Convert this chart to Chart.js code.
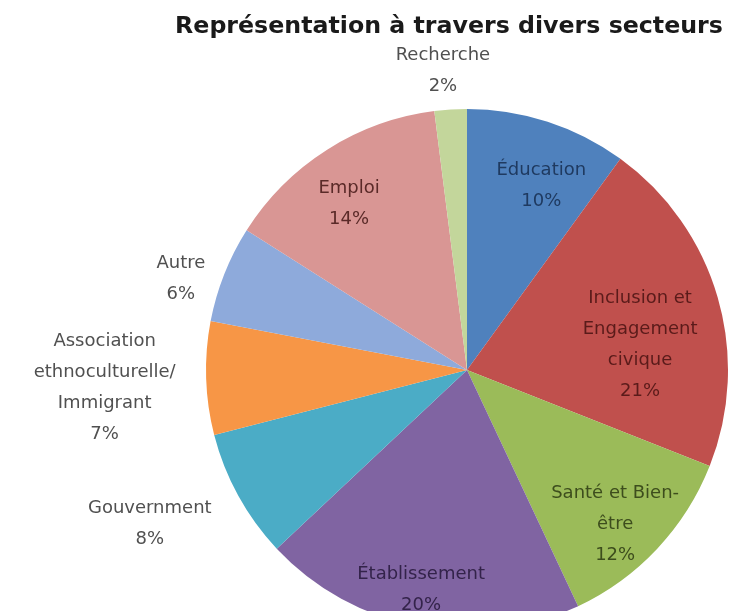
<!DOCTYPE html>
<html>
<head>
<meta charset="utf-8">
<script src="https://cdn.jsdelivr.net/npm/chart.js@4.4.1/dist/chart.umd.min.js"></script>
<style>
  html, body { margin: 0; padding: 0; background: #ffffff; overflow: hidden; }
  #wrap { width: 732px; height: 611px; overflow: hidden; }
</style>
</head>
<body>
<div id="wrap"><canvas id="pieChart" width="732" height="640"></canvas></div>
<script>
// Sector names (split on lines the way the chart shows them)
const sectors = [
    ['Éducation'],
    ['Inclusion et', 'Engagement', 'civique'],
    ['Santé et Bien-', 'être'],
    ['Établissement'],
    ['Gouvernment'],
    ['Association', 'ethnoculturelle/', 'Immigrant'],
    ['Autre'],
    ['Emploi'],
    ['Recherche']
];

// Share of each sector, in percent
const shares = [10, 21, 12, 20, 8, 7, 6, 14, 2];

const chartTitle = 'Représentation à travers divers secteurs';

// Slice colours
const sliceColors = ['#4f81bd', '#c0504d', '#9bbb59', '#8064a2', '#4bacc6',
                     '#f79646', '#8eaadb', '#d99694', '#c3d69b'];
// Label text colours (dark tints inside, grey outside)
const labelColors = ['#1f3a60', '#5a1b1a', '#3d4d1d', '#33234a', '#505050',
                     '#505050', '#505050', '#5a2a28', '#505050'];
// Label placement: distance as fraction of the radius, nudge in degrees
const labelDist = [0.76, 0.67, 0.82, 0.86, 1.35, 1.39, 1.15, 0.78, 1.15];
const labelNudge = [4, 8, 3, 1, 3, -1, -4, -3, -1];

// Draws the title and the data labels
const pieLabels = {
    id: 'pieLabels',
    afterDraw(chart) {
        const c = chart.ctx;
        c.save();

        // title, sized to its width in the picture
        let size = 24;
        c.font = 'bold ' + size + 'px "DejaVu Sans"';
        const w = c.measureText(chartTitle).width;
        size = size * 548 / w;
        c.font = 'bold ' + size.toFixed(2) + 'px "DejaVu Sans"';
        c.fillStyle = '#1a1a1a';
        c.textAlign = 'center';
        c.textBaseline = 'middle';
        c.fillText(chartTitle, 449, 27);

        const total = shares.reduce((a, b) => a + b, 0);
        const arcs = chart.getDatasetMeta(0).data;
        c.font = '18px "DejaVu Sans"';
        const lineH = 31;
        arcs.forEach((arc, i) => {
            const p = arc.getProps(['x', 'y', 'startAngle', 'endAngle', 'outerRadius'], true);
            const mid = (p.startAngle + p.endAngle) / 2 + labelNudge[i] * Math.PI / 180;
            const d = p.outerRadius * labelDist[i];
            const x = p.x + Math.cos(mid) * d;
            const y = p.y + Math.sin(mid) * d;
            const lines = sectors[i].concat([Math.round(shares[i] / total * 100) + '%']);
            const top = y - (lines.length - 1) * lineH / 2;
            c.fillStyle = labelColors[i];
            lines.forEach((t, k) => c.fillText(t, x, top + k * lineH));
        });
        c.restore();
    }
};

const ctx = document.getElementById('pieChart').getContext('2d');
new Chart(ctx, {
    type: 'pie',
    data: {
        labels: sectors,
        datasets: [{
            data: shares,
            backgroundColor: sliceColors,
            borderWidth: 0
        }]
    },
    options: {
        responsive: false,
        animation: false,
        devicePixelRatio: 1,
        layout: {
            padding: { left: 206, right: 4, top: 109, bottom: 9 }
        },
        plugins: {
            legend: { display: false },
            title: { display: false },
            tooltip: { enabled: false }
        }
    },
    plugins: [pieLabels]
});
</script>
</body>
</html>
